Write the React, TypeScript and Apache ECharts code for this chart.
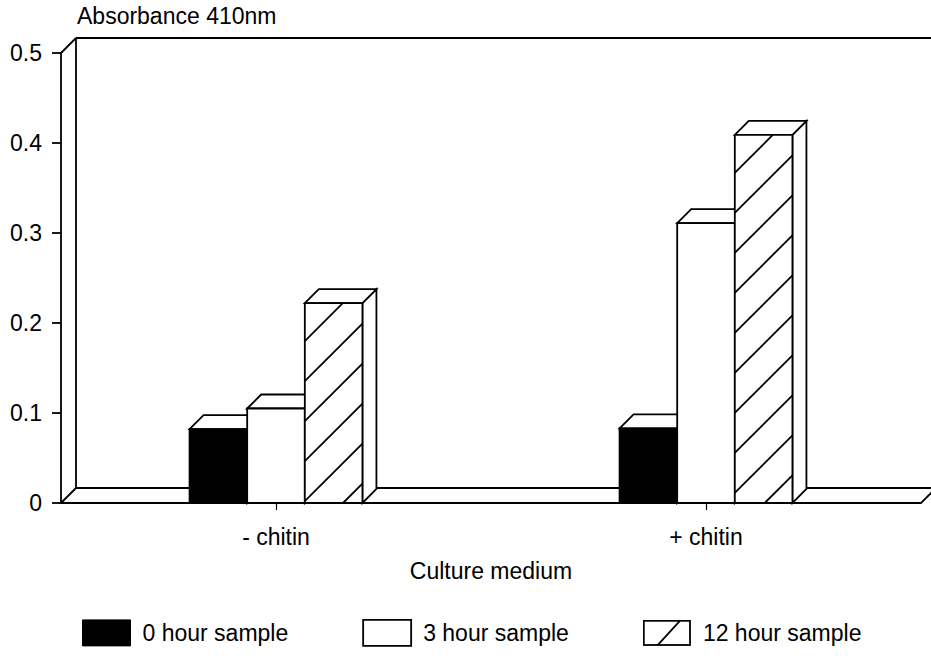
import React, { useEffect, useRef } from "react";
import * as echarts from "echarts";

const categories = ["- chitin", "+ chitin"];
const seriesNames = ["0 hour sample", "3 hour sample", "12 hour sample"];
const zeroHour = [0.082, 0.083];
const threeHour = [0.105, 0.311];
const twelveHour = [0.222, 0.409];
const yTicks = { min: 0, max: 0.5, interval: 0.1 };

const FONT = "'Liberation Sans', Arial, Helvetica, sans-serif";
const FS = 23;
const INK = "#000";
const LW = 1.8;
const DEPTH = 15;
const BAR_DEPTH = 14;
const BAR_RATIO = 0.134;
const HATCH_GAP = 40;
const HATCH_START = 38;

const hatchSvg =
  '<svg xmlns="http://www.w3.org/2000/svg" width="48" height="26" viewBox="0 0 48 26">' +
  '<rect x="0.9" y="0.9" width="46.2" height="24.2" fill="#fff" stroke="#000" stroke-width="1.8"/>' +
  '<line x1="15" y1="25" x2="37" y2="1" stroke="#000" stroke-width="1.8"/></svg>';
const hatchIcon = "image://data:image/svg+xml;charset=utf-8," + encodeURIComponent(hatchSvg);

function barRenderer(slot: number, fill: string, hatched: boolean, withSide: boolean) {
  return (params: any, api: any) => {
    const ci = api.value(0);
    const v = api.value(1);
    const top = api.coord([ci, v]);
    const base = api.coord([ci, 0]);
    const band = api.size([1, 0])[0];
    const bw = band * BAR_RATIO;
    const xL = top[0] - 1.5 * bw + slot * bw;
    const xR = xL + bw;
    const yT = top[1];
    const yB = base[1];
    const d = BAR_DEPTH;
    const stroke = { stroke: INK, lineWidth: LW, lineJoin: "miter" };
    const children: any[] = [];
    if (withSide) {
      children.push({
        type: "polygon",
        shape: { points: [[xR, yT], [xR + d, yT - d], [xR + d, yB - d], [xR, yB]] },
        style: { fill: "#fff", ...stroke },
      });
    }
    children.push({
      type: "polygon",
      shape: { points: [[xL, yT], [xL + d, yT - d], [xR + d, yT - d], [xR, yT]] },
      style: { fill: "#fff", ...stroke },
    });
    children.push({
      type: "rect",
      shape: { x: xL, y: yT, width: bw, height: yB - yT },
      style: { fill, ...stroke },
    });
    if (hatched) {
      // diagonal lines x + y = c, first one starting HATCH_START below the top-left corner
      const c0 = xL + yT + HATCH_START;
      for (let k = 0; k < 60; k++) {
        const c = c0 + k * HATCH_GAP;
        const xa = Math.max(xL, c - yB);
        const xb = Math.min(xR, c - yT);
        if (xb - xa > 1) {
          children.push({
            type: "line",
            shape: { x1: xa, y1: c - xa, x2: xb, y2: c - xb },
            style: { stroke: INK, lineWidth: LW },
          });
        }
      }
    }
    return { type: "group", children };
  };
}

function frameRenderer(params: any) {
  const g = params.coordSys;
  const x0 = g.x, y0 = g.y, x1 = g.x + g.width, y1 = g.y + g.height;
  const d = DEPTH;
  const ls = { stroke: INK, lineWidth: LW };
  const seg = (a: number[], b: number[]) => ({
    type: "line",
    shape: { x1: a[0], y1: a[1], x2: b[0], y2: b[1] },
    style: ls,
  });
  return {
    type: "group",
    children: [
      seg([x0, y0], [x0 + d, y0 - d]),
      seg([x0 + d, y0 - d], [x1 + d + 20, y0 - d]),
      seg([x0 + d, y0 - d], [x0 + d, y1 - d]),
      seg([x0, y1], [x0 + d, y1 - d]),
      seg([x0 + d, y1 - d], [x1 + d, y1 - d]),
      seg([x1 + d, y1 - d], [x1, y1]),
    ],
  };
}

export default function App() {
  const ref = useRef<HTMLDivElement>(null);
  useEffect(() => {
    if (!ref.current) return;
    const chart = echarts.init(ref.current, null, { renderer: "svg" });
    const textBase = { color: INK, fontFamily: FONT };
    chart.setOption({
      animation: false,
      backgroundColor: "#fff",
      title: {
        text: "Absorbance 410nm",
        left: 77,
        top: 4,
        padding: 0,
        textStyle: { ...textBase, fontSize: FS, fontWeight: "normal" },
      },
      grid: { left: 61, right: 10, top: 53, bottom: 153, containLabel: false },
      legend: {
        left: 82,
        top: 619,
        padding: 0,
        itemWidth: 48,
        itemHeight: 26,
        itemGap: 74,
        selectedMode: false,
        textStyle: { ...textBase, fontSize: FS, padding: [0, 0, 0, 7] },
        data: [
          { name: seriesNames[0], icon: "rect", itemStyle: { color: INK, borderColor: INK, borderWidth: 1 } },
          { name: seriesNames[1], icon: "rect", itemStyle: { color: "#fff", borderColor: INK, borderWidth: 1.8 } },
          { name: seriesNames[2], icon: hatchIcon },
        ],
      },
      xAxis: {
        type: "category",
        data: categories,
        axisLine: { show: true, lineStyle: { color: INK, width: LW } },
        axisTick: { show: true, alignWithLabel: true, length: 7, lineStyle: { color: INK, width: 1.2 } },
        axisLabel: { ...textBase, fontSize: FS, margin: 22 },
        name: "Culture medium",
        nameLocation: "middle",
        nameGap: 56,
        nameTextStyle: { ...textBase, fontSize: FS },
        splitLine: { show: false },
      },
      yAxis: {
        type: "value",
        min: yTicks.min,
        max: yTicks.max,
        interval: yTicks.interval,
        axisLine: { show: true, lineStyle: { color: INK, width: LW } },
        axisTick: { show: true, length: 9, lineStyle: { color: INK, width: LW } },
        axisLabel: { ...textBase, fontSize: FS, margin: 19 },
        splitLine: { show: false },
      },
      series: [
        {
          name: "frame",
          type: "custom",
          z: 1,
          silent: true,
          renderItem: frameRenderer,
          data: [[0, 0]],
          tooltip: { show: false },
        },
        {
          name: seriesNames[0],
          type: "custom",
          z: 2,
          itemStyle: { color: INK },
          renderItem: barRenderer(0, INK, false, true),
          data: zeroHour.map((v, i) => [i, v]),
        },
        {
          name: seriesNames[1],
          type: "custom",
          z: 3,
          itemStyle: { color: "#fff", borderColor: INK },
          renderItem: barRenderer(1, "#fff", false, true),
          data: threeHour.map((v, i) => [i, v]),
        },
        {
          name: seriesNames[2],
          type: "custom",
          z: 4,
          itemStyle: { color: "#fff", borderColor: INK },
          renderItem: barRenderer(2, "#fff", true, true),
          data: twelveHour.map((v, i) => [i, v]),
        },
      ],
    });
    return () => chart.dispose();
  }, []);
  return <div ref={ref} style={{ width: 931, height: 656, position: "absolute", left: 0, top: 0 }} />;
}
